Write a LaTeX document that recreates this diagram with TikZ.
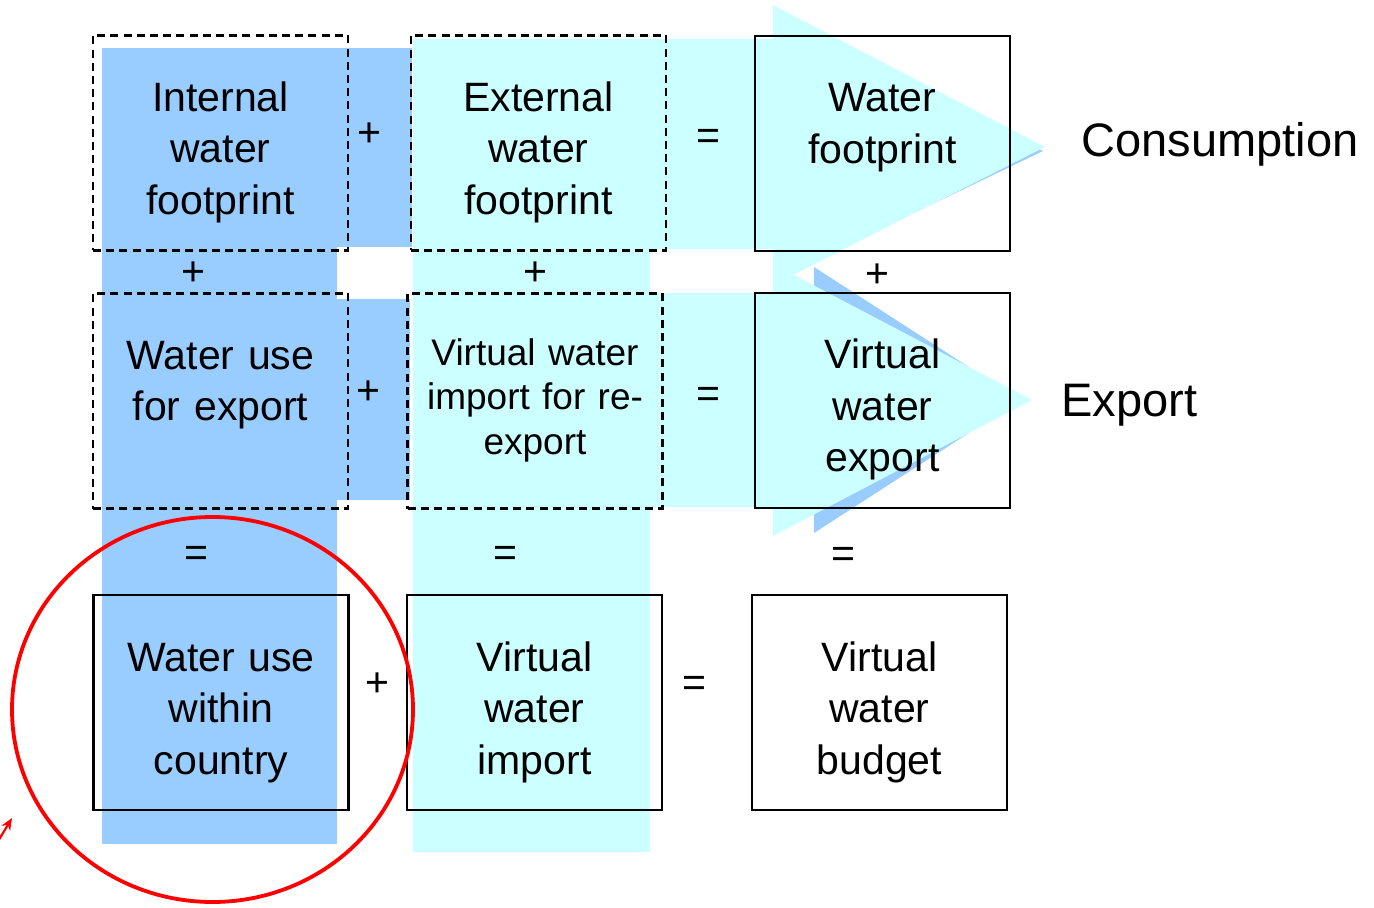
\documentclass[tikz,border=0pt]{standalone}
\usepackage{fontspec}
\setmainfont{Liberation Sans}
\usetikzlibrary{arrows.meta}
\definecolor{bluefill}{HTML}{99CCFF}
\definecolor{cyanfill}{HTML}{CCFFFF}
\definecolor{ringred}{HTML}{FF0000}

\begin{document}
\begin{tikzpicture}[x=0.5pt,y=-0.5pt,
	box/.style={draw,line width=1.3pt,minimum width=127.5pt,minimum height=107.5pt,inner sep=0pt,
		text width=127.5pt,align=center,text height=38pt,text depth=69.5pt,
		font=\fontsize{20.5pt}{25.75pt}\selectfont},
	dashbox/.style={box,line width=1.2pt,dash pattern=on 4pt off 2.6pt},
	smallbox/.style={dashbox,text height=36pt,text depth=71.5pt,font=\fontsize{18.5pt}{22.25pt}\selectfont},
	sign/.style={inner sep=0pt,anchor=base,font=\fontsize{20.5pt}{24pt}\selectfont},
	side/.style={inner sep=0pt,anchor=base,font=\fontsize{23.5pt}{28pt}\selectfont}]
		\useasboundingbox (0,0) rectangle (1374,908);

		\coordinate (internal) at (220.5,143);
		\coordinate (external) at (538.5,143);
		\coordinate (footprint) at (882.5,143.5);
		\coordinate (useexport) at (220.5,401);
		\coordinate (reexport) at (535,401);
		\coordinate (vexport) at (882.5,400.5);
		\coordinate (usewithin) at (221,702.5);
		\coordinate (vimport) at (534.5,702.5);
		\coordinate (budget) at (879.5,702.5);

		% arrows behind
		\fill[bluefill] (814,41) -- (1043,151) -- (814,261) -- cycle;
		\fill[bluefill] (814,267) -- (1020,400) -- (814,533) -- cycle;
		\fill[cyanfill] (773,5) -- (1045,147) -- (773,285) -- cycle;
		\fill[cyanfill] (773,264) -- (1032,400) -- (773,536) -- cycle;
		\fill[cyanfill] (413,39) rectangle (650,852);
		\fill[cyanfill] (650,39) rectangle (774,249);
		\fill[cyanfill] (650,293) rectangle (774,507);
		\fill[bluefill] (102,48) rectangle (337,844);
		\fill[bluefill] (337,48) rectangle (412,247);
		\fill[bluefill] (337,299) rectangle (410,500);

		\node [dashbox] (iwf) at (internal) {Internal\\water\\footprint};
		\node [dashbox] (ewf) at (external) {External\\water\\footprint};
		\node [box] (wf) at (footprint) {Water\\footprint};
\node [dashbox] (wue) at (useexport) {Water use\\for export};
\node [smallbox] (vwre) at (reexport) {Virtual water\\import for re-\\export};
\node [box] (vwe) at (vexport) {Virtual\\water\\export};
\node [box] (wuc) at (usewithin) {Water use\\within\\country};
\node [box] (vwi) at (vimport) {Virtual\\water\\import};
\node [box] (vwb) at (budget) {Virtual\\water\\budget};

		\node [sign] (plusA) at (369,146.5) {+};
		\node [sign] (eqA) at (708,149.5) {=};
		\node [sign] (plusB) at (193,285.5) {+};
		\node [sign] (plusC) at (535,285.5) {+};
		\node [sign] (plusD) at (877.5,287.5) {+};
		\node [sign] (plusE) at (368.5,404.5) {+};
		\node [sign] (eqB) at (708,408) {=};
		\node [sign] (eqC) at (196,566) {=};
		\node [sign] (eqD) at (505,566) {=};
		\node [sign] (eqE) at (843,567.5) {=};
		\node [sign] (plusF) at (377.5,696) {+};
		\node [sign] (eqF) at (694,696) {=};

		\node [side] (consumption) at (1220,157) {Consumption};
		\node [side] (export) at (1129.5,417) {Export};

		% highlight
		\draw[ringred,line width=1.9pt] (212.5,709.5) ellipse [x radius=200.5,y radius=192.5];
		\coordinate (tail) at (-3,843);
		\coordinate (tip) at (12,818);
		\draw[ringred,line width=1.1pt,-{Stealth[length=6pt,width=5pt]}] (tail) -- (tip);

		\end{tikzpicture}
\end{document}
